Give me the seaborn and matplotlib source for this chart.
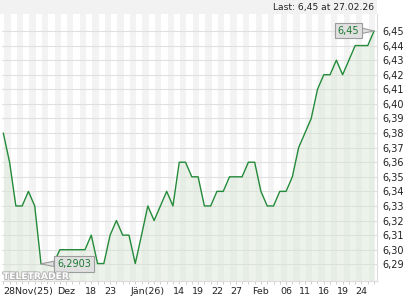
import matplotlib
matplotlib.use("Agg")
import matplotlib.pyplot as plt
import seaborn as sns
import numpy as np
import pandas as pd
from matplotlib import patheffects as pe
from matplotlib.patches import Rectangle

# ---- data -------------------------------------------------------------
values = [6.38, 6.36, 6.33, 6.33, 6.34, 6.33, 6.2903, 6.2905, 6.2905, 6.30,
          6.30, 6.30, 6.30, 6.30, 6.31, 6.2905, 6.2905, 6.31, 6.32, 6.31,
          6.31, 6.2905, 6.31, 6.33, 6.32, 6.33, 6.34, 6.33, 6.36, 6.36,
          6.35, 6.35, 6.33, 6.33, 6.34, 6.34, 6.35, 6.35, 6.35, 6.36,
          6.36, 6.34, 6.33, 6.33, 6.34, 6.34, 6.35, 6.37, 6.38, 6.39,
          6.41, 6.42, 6.42, 6.43, 6.42, 6.43, 6.44, 6.44, 6.44, 6.45]
day_index = list(range(len(values)))
tick_days = [0, 10, 14, 17, 23, 28, 31, 34, 37, 41, 45, 48, 51, 54, 57]
tick_labels = ["28Nov(25)", "Dez", "18", "23", "Jän(26)", "14", "19", "22",
               "27", "Feb", "06", "11", "16", "19", "24"]
y_ticks = [6.29, 6.30, 6.31, 6.32, 6.33, 6.34, 6.35, 6.36, 6.37, 6.38,
           6.39, 6.40, 6.41, 6.42, 6.43, 6.44, 6.45]
last_date = "27.02.26"

df = pd.DataFrame({"day": day_index, "price": values})

def fmt(v, d=2):
    return f"{v:.{d}f}".replace(".", ",")

# ---- figure -----------------------------------------------------------
sns.set_theme(style="white")
plt.rcParams["font.family"] = ["DejaVu Sans"]
W, H = 420, 300
fig = plt.figure(figsize=(W / 100, H / 100), dpi=100)
fig.patch.set_facecolor("white")

# header band
fig.patches.append(Rectangle((0, 1 - 14 / H), 377 / W, 14 / H,
                             transform=fig.transFigure, fc="#f2f2f2",
                             ec="none", zorder=0))
fig.text(374 / W, 1 - 7.5 / H, f"Last: {fmt(values[-1])} at {last_date}",
         ha="right", va="center", fontsize=6.6, color="#222222")

ax = fig.add_axes([2 / W, 19 / H, 375 / W, 267 / H])
ax.set_facecolor("white")

# alternating day stripes
for i in range(0, len(values) + 1, 2):
    ax.axvspan(i + 0.15, i + 1.15, color="#f3f3f3", lw=0, zorder=0)

# horizontal grid
for yv in y_ticks:
    ax.axhline(yv, color="#e0e0e0", lw=0.8, zorder=1)

ymin, ymax = 6.27853, 6.46166
ax.fill_between(df["day"], df["price"], ymin, color="#d8e6d2", alpha=0.45,
                lw=0, zorder=2)
sns.lineplot(data=df, x="day", y="price", ax=ax, color="#238b3a",
             linewidth=1.0, zorder=3)

ax.set_xlim(-0.207, 59.47)
ax.set_ylim(ymin, ymax)
ax.set_xlabel("")
ax.set_ylabel("")

# y axis on right
ax.yaxis.tick_right()
ax.set_yticks(y_ticks)
ax.set_yticklabels([fmt(v) for v in y_ticks])
ax.tick_params(axis="y", length=0, pad=3.6, labelsize=7, labelcolor="#222222")

# x axis
ax.set_xticks(tick_days)
ax.set_xticklabels(tick_labels)
ax.set_xticks(day_index, minor=True)
ax.tick_params(axis="x", which="both", length=2.2, width=0.6,
               color="#c8c8c8", pad=1.8, labelsize=6.8, labelcolor="#222222",
               bottom=True)
ax.get_xticklabels()[0].set_ha("left")

for s in ["left", "top"]:
    ax.spines[s].set_visible(False)
for s in ["right", "bottom"]:
    ax.spines[s].set_color("#dcdcdc")
    ax.spines[s].set_linewidth(0.8)

# callouts
box = dict(boxstyle="square,pad=0.28", fc="#e0e0e0", ec="#9c9c9c", lw=0.8)
arrow = dict(arrowstyle="wedge,tail_width=0.55,shrink_factor=0.5",
             fc="#e0e0e0", ec="#9c9c9c", lw=0.8, shrinkA=0, shrinkB=0)
imin = int(np.argmin(values))
ax.annotate(fmt(values[imin], 4), xy=(day_index[imin], values[imin]),
            xytext=(33, 0), textcoords="offset pixels", ha="center",
            va="center", fontsize=7, color="#1e7a34", bbox=box,
            arrowprops=arrow, zorder=5)
ax.annotate(fmt(values[-1]), xy=(day_index[-1], values[-1]),
            xytext=(-26, 0.5), textcoords="offset pixels", ha="center",
            va="center", fontsize=7, color="#1e7a34", bbox=box,
            arrowprops=arrow, zorder=5)

# watermark
fig.text(36 / W, 1 - 276.5 / H, "TELETRADER", ha="center", va="center",
         fontsize=6.6, fontweight="bold", color="white", zorder=10,
         path_effects=[pe.withStroke(linewidth=1.4, foreground="#b4b4b4")])

fig.savefig("out.png", dpi=100, facecolor="white")
